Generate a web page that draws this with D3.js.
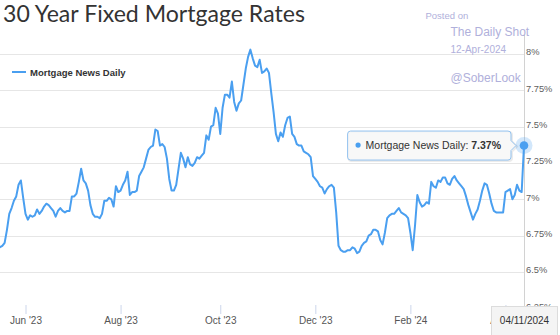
<!DOCTYPE html>
<html><head><meta charset="utf-8">
<script src="https://cdn.jsdelivr.net/npm/d3@7"></script>
<style>body{margin:0;background:#fff;} svg{display:block;}</style>
</head><body>
<svg id="c" width="560" height="335"></svg>
<script>
const title = "30 Year Fixed Mortgage Rates";
const seriesName = "Mortgage News Daily";
const startDate = "2023-05-16";
const endDate = "2024-04-11";
const holidays = ["2023-05-29","2023-06-19","2023-07-04","2023-09-04","2023-10-09","2023-11-10",
  "2023-11-23","2023-12-25","2024-01-01","2024-01-15","2024-02-19"];
const rates = [
  6.67, 6.68, 6.70, 6.79, 6.90, 6.94, 6.99, 7.02, 7.10, 7.13,
  7.01, 6.90, 6.86, 6.89, 6.88, 6.89, 6.93, 6.90, 6.92, 6.95,
  6.97, 6.96, 6.94, 6.92, 6.88, 6.92, 6.94, 6.92, 6.91, 6.92,
  6.92, 7.02, 7.02, 7.04, 7.12, 7.21, 7.13, 7.11, 7.06, 6.96,
  6.90, 6.88, 6.88, 6.87, 6.90, 6.99, 6.99, 7.01, 7.00, 6.95,
  7.09, 7.05, 7.06, 7.10, 7.13, 7.19, 7.03, 7.05, 7.05, 7.06,
  7.16, 7.19, 7.22, 7.28, 7.34, 7.36, 7.37, 7.48, 7.47, 7.37,
  7.38, 7.36, 7.28, 7.14, 7.06, 7.06, 7.10, 7.21, 7.32, 7.28,
  7.22, 7.29, 7.24, 7.23, 7.25, 7.29, 7.28, 7.30, 7.32, 7.44,
  7.41, 7.50, 7.51, 7.63, 7.59, 7.45, 7.63, 7.72, 7.72, 7.70,
  7.81, 7.67, 7.61, 7.66, 7.68, 7.79, 7.90, 7.98, 8.03, 7.97,
  7.92, 7.91, 7.96, 7.87, 7.88, 7.90, 7.87, 7.73, 7.60, 7.45,
  7.40, 7.46, 7.43, 7.51, 7.56, 7.57, 7.45, 7.43, 7.38, 7.37,
  7.37, 7.33, 7.32, 7.31, 7.29, 7.16, 7.14, 7.12, 7.09, 7.08,
  7.04, 7.07, 7.09, 7.10, 7.08, 6.91, 6.68, 6.65, 6.64, 6.64,
  6.65, 6.65, 6.67, 6.66, 6.63, 6.64, 6.68, 6.70, 6.71, 6.75,
  6.76, 6.79, 6.79, 6.78, 6.72, 6.69, 6.77, 6.87, 6.89, 6.90,
  6.90, 6.92, 6.94, 6.91, 6.90, 6.89, 6.87, 6.77, 6.65, 6.82,
  7.03, 6.98, 6.95, 6.96, 6.98, 6.97, 7.12, 7.09, 7.08, 7.13,
  7.12, 7.15, 7.15, 7.11, 7.10, 7.14, 7.16, 7.13, 7.11, 7.09,
  7.07, 7.02, 6.96, 6.91, 6.86, 6.90, 6.93, 6.99, 7.06, 7.11,
  7.10, 7.04, 6.97, 6.92, 6.91, 6.91, 6.91, 6.91, 7.05, 7.06,
  7.07, 7.00, 7.03, 7.10, 7.06, 7.05, 7.37
];
const xTickMonths = ["2023-06","2023-08","2023-10","2023-12","2024-02","2024-04"];
const xTickLabels = ["Jun '23","Aug '23","Oct '23","Dec '23","Feb '24","Apr '24"];
const yTicks = [6.25, 6.5, 6.75, 7, 7.25, 7.5, 7.75, 8];
const yTickLabels = ["6.25%","6.5%","6.75%","7%","7.25%","7.5%","7.75%","8%"];
const watermark = {posted: "Posted on", source: "The Daily Shot", date: "12-Apr-2024", handle: "@SoberLook"};

// business-day calendar (Highstock-style ordinal axis)
const fmt = d3.utcFormat("%Y-%m-%d");
const dates = [];
for (let d = new Date(startDate + "T00:00:00Z"); d <= new Date(endDate + "T00:00:00Z"); d = d3.utcDay.offset(d, 1)) {
  const wd = d.getUTCDay();
  if (wd === 0 || wd === 6) continue;
  if (holidays.includes(fmt(d))) continue;
  dates.push(d);
}
const data = rates.map((v, i) => ({i, date: dates[i], v}));

const LINE = "#4a9ff0";
const svg = d3.select("#c");
const W = 560, H = 335;
const plotL = 0, plotR = 524, axisY = 305;

const x = d3.scaleLinear().domain([0, data.length - 1]).range([plotL, plotR]);
const y = d3.scaleLinear().domain([6.25, 8]).range([308.3, 54]);

// gridlines
svg.append("g").selectAll("line").data(yTicks.filter(t => y(t) < axisY)).join("line")
  .attr("x1", plotL).attr("x2", plotR)
  .attr("y1", d => Math.round(y(d)) + 0.5).attr("y2", d => Math.round(y(d)) + 0.5)
  .attr("stroke", "#e6e6e6").attr("stroke-width", 1);

// right vertical axis line
svg.append("line").attr("x1", plotR + 0.5).attr("x2", plotR + 0.5).attr("y1", 35).attr("y2", 309)
  .attr("stroke", "#d2d2d2");

// y labels
const yAxis = d3.axisRight(y).tickValues(yTicks).tickSize(0).tickPadding(2)
  .tickFormat((d, i) => yTickLabels[i]);
const gy = svg.append("g").attr("transform", `translate(${plotR},0)`).call(yAxis);
gy.select(".domain").remove();
gy.selectAll("text").attr("dy", "0.1em").attr("fill", "#606060")
  .style("font-family", "'Liberation Sans', Arial, sans-serif").style("font-size", "9.3px");

// x axis
const tickIdx = xTickMonths.map(m => data.findIndex(d => fmt(d.date).startsWith(m)));
const xAxis = d3.axisBottom(x).tickValues(tickIdx).tickSize(9).tickPadding(3)
  .tickFormat((d, i) => xTickLabels[i]);
const gx = svg.append("g").attr("transform", `translate(0,${axisY})`).call(xAxis);
gx.select(".domain").remove();
gx.selectAll(".tick line").attr("stroke", "#ccd6eb");
gx.selectAll("text").attr("fill", "#555")
  .style("font-family", "'Liberation Sans', Arial, sans-serif").style("font-size", "10px");

// line
const line = d3.line().x(d => x(d.i)).y(d => y(d.v)).curve(d3.curveLinear);
svg.append("path").datum(data).attr("d", line)
  .attr("fill", "none").attr("stroke", LINE).attr("stroke-width", 2)
  .attr("stroke-linejoin", "round").attr("stroke-linecap", "round");

// title
const t = svg.append("text").attr("x", 3).attr("y", 22).text(title)
  .attr("fill", "#333").style("font-family", "Lato, 'Open Sans', sans-serif").style("font-size", "23px");
const tl = t.node().getComputedTextLength();
t.style("font-size", (23 * 302 / tl).toFixed(2) + "px");

// legend
svg.append("line").attr("x1", 12).attr("x2", 26).attr("y1", 72).attr("y2", 72)
  .attr("stroke", LINE).attr("stroke-width", 2);
svg.append("text").attr("x", 30).attr("y", 75.5).text(seriesName)
  .attr("fill", "#333").style("font-family", "'Liberation Sans', Arial, sans-serif")
  .style("font-size", "9.5px").style("font-weight", "bold");

// watermark
const wmC = "#b0b0db";
const wmF = "'Liberation Sans', Arial, sans-serif";
svg.append("text").attr("x", 425.5).attr("y", 18.5).text(watermark.posted)
  .attr("fill", wmC).style("font-family", wmF).style("font-size", "9.5px");
svg.append("text").attr("x", 450.5).attr("y", 36).text(watermark.source)
  .attr("fill", wmC).style("font-family", wmF).style("font-size", "12px");
svg.append("text").attr("x", 450.5).attr("y", 53).text(watermark.date)
  .attr("fill", wmC).style("font-family", wmF).style("font-size", "10px");
svg.append("text").attr("x", 450.5).attr("y", 82).text(watermark.handle)
  .attr("fill", wmC).style("font-family", wmF).style("font-size", "12px");

// last point: halo + marker
const last = data[data.length - 1];
const px = x(last.i), py = y(last.v);
svg.append("circle").attr("cx", px).attr("cy", py).attr("r", 8.5).attr("fill", LINE).attr("opacity", 0.25);
svg.append("circle").attr("cx", px).attr("cy", py).attr("r", 4.3).attr("fill", LINE);

// tooltip
const tipG = svg.append("g");
const tipText = tipG.append("text").attr("y", py + 3.5)
  .style("font-family", "'Liberation Sans', Arial, sans-serif").style("font-size", "10.5px").attr("fill", "#333");
tipText.append("tspan").text(seriesName + ": ");
tipText.append("tspan").style("font-weight", "bold").text(last.v.toFixed(2) + "%");
const tw = tipText.node().getComputedTextLength();
const bx1 = px - 13, bx0 = bx1 - (tw + 28), by0 = py - 14.5, by1 = py + 14.5, r = 3;
const tipPath = `M${bx0 + r},${by0} H${bx1 - r} Q${bx1},${by0} ${bx1},${by0 + r} V${py - 5} L${bx1 + 5},${py} L${bx1},${py + 5} V${by1 - r} Q${bx1},${by1} ${bx1 - r},${by1} H${bx0 + r} Q${bx0},${by1} ${bx0},${by1 - r} V${by0 + r} Q${bx0},${by0} ${bx0 + r},${by0} Z`;
tipG.insert("path", "text").attr("d", tipPath).attr("transform", "translate(1,1)")
  .attr("fill", "none").attr("stroke", "rgba(0,0,0,0.08)").attr("stroke-width", 2);
tipG.insert("path", "text").attr("d", tipPath)
  .attr("fill", "rgba(247,247,247,0.9)").attr("stroke", "#92c2ef").attr("stroke-width", 1);
tipG.append("circle").attr("cx", bx0 + 10.5).attr("cy", py - 0.5).attr("r", 2.6).attr("fill", LINE);
tipText.attr("x", bx0 + 18);

// crosshair date label
const dateStr = d3.utcFormat("%m/%d/%Y")(last.date);
const dg = svg.append("g");
dg.append("rect").attr("x", px - 32.5).attr("y", 306.5).attr("width", 66).attr("height", 30)
  .attr("fill", "#f4f4f4").attr("stroke", "#dcdcdc");
dg.append("text").attr("x", px + 0.5).attr("y", 323.5).attr("text-anchor", "middle").text(dateStr)
  .attr("fill", "#333").style("font-family", "'Liberation Sans', Arial, sans-serif").style("font-size", "10px");
</script>
</body></html>
